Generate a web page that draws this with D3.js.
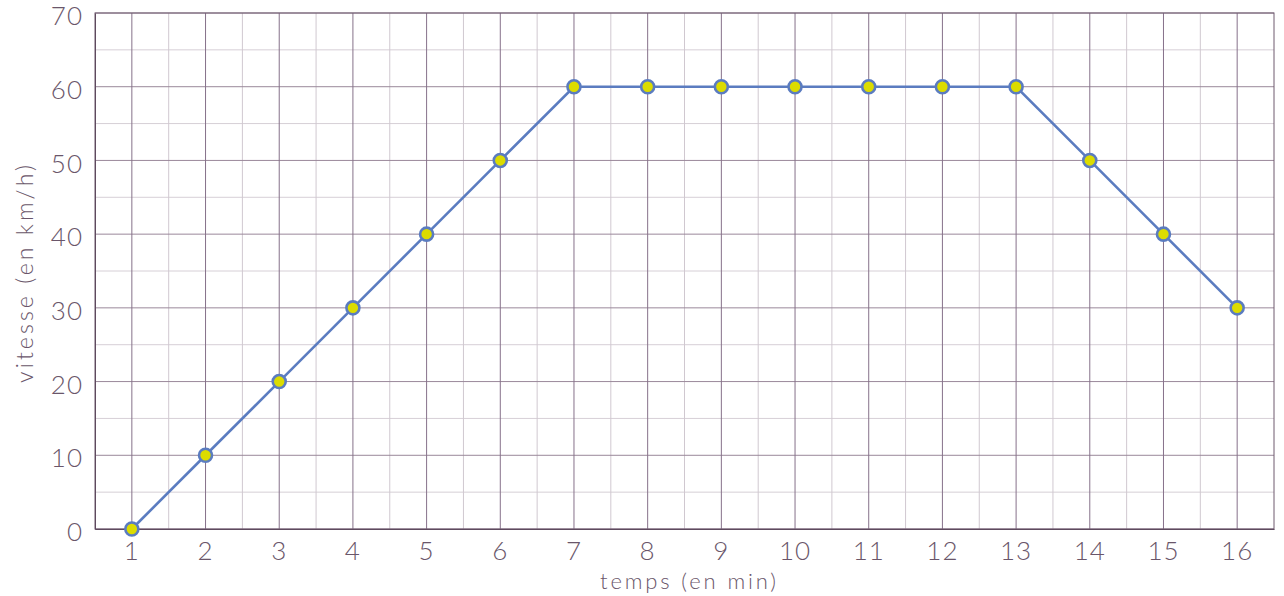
<!DOCTYPE html>
<html>
<head>
<meta charset="utf-8">
<script src="https://cdn.jsdelivr.net/npm/d3@7"></script>
<style>
html,body{margin:0;padding:0;background:#fff;}
svg text{font-family:Lato,"Open Sans",sans-serif;font-weight:300;fill:#6a566a;}
</style>
</head>
<body>
<svg id="chart" width="1284" height="596"></svg>
<script>
const minutes = [1,2,3,4,5,6,7,8,9,10,11,12,13,14,15,16];
const speeds = [0,10,20,30,40,50,60,60,60,60,60,60,60,50,40,30];
const yTicks = [0,10,20,30,40,50,60,70];
const xTitle = "temps (en min)";
const yTitle = "vitesse (en km/h)";

const svg = d3.select("#chart");
const L = 95, R = 1274, T = 13, B = 529;
const x = d3.scaleBand().domain(minutes).range([L, R]).padding(0);
const y = d3.scaleLinear().domain([0, 70]).range([B, T]);
const cx = d => x(d) + x.bandwidth() / 2;

const g = svg.append("g");
const minorY = d3.range(5, 70, 10);
g.selectAll(".hmin").data(minorY).join("line")
  .attr("x1", L).attr("x2", R).attr("y1", d => y(d)).attr("y2", d => y(d))
  .attr("stroke", "#d6cfd6").attr("stroke-width", 1);
g.selectAll(".vmin").data(minutes.slice(1)).join("line")
  .attr("x1", d => x(d)).attr("x2", d => x(d)).attr("y1", T).attr("y2", B)
  .attr("stroke", "#d0c8d0").attr("stroke-width", 1);
g.selectAll(".hmaj").data(yTicks).join("line")
  .attr("x1", L).attr("x2", R).attr("y1", d => y(d)).attr("y2", d => y(d))
  .attr("stroke", "#9a889a").attr("stroke-width", 1);
g.selectAll(".vmaj").data(minutes).join("line")
  .attr("x1", d => cx(d)).attr("x2", d => cx(d)).attr("y1", T).attr("y2", B)
  .attr("stroke", "#86718a").attr("stroke-width", 1);
g.append("rect").attr("x", L).attr("y", T).attr("width", R - L).attr("height", B - T)
  .attr("fill", "none").attr("stroke", "#6e5a6e").attr("stroke-width", 1);

const xAxis = d3.axisBottom(x).tickSize(0).tickPadding(13);
const xa = svg.append("g").attr("transform", `translate(0,${B})`).call(xAxis);
xa.select(".domain").attr("stroke", "#5e4a5e");
xa.selectAll("text").style("font-size", "26px").style("letter-spacing", "1px").attr("dy", "0.71em");

const yAxis = d3.axisLeft(y).tickValues(yTicks).tickSize(0).tickPadding(12);
const ya = svg.append("g").attr("transform", `translate(${L},0)`).call(yAxis);
ya.select(".domain").attr("stroke", "#5e4a5e");
ya.selectAll("text").style("font-size", "26px").style("letter-spacing", "1px").attr("dy", "0.45em");

svg.append("text").attr("x", 688).attr("y", 589)
  .attr("text-anchor", "middle").style("font-size", "22px")
  .attr("textLength", 176).attr("lengthAdjust", "spacing").text(xTitle);
svg.append("text").attr("transform", `translate(33,${274}) rotate(-90)`)
  .attr("text-anchor", "middle").style("font-size", "23px")
  .attr("textLength", 218).attr("lengthAdjust", "spacing").text(yTitle);

const line = d3.line().x((d, i) => cx(minutes[i])).y(d => y(d));
svg.append("path").datum(speeds).attr("d", line)
  .attr("fill", "none").attr("stroke", "#5b7cc0").attr("stroke-width", 2.6);

svg.selectAll(".pt").data(speeds).join("circle")
  .attr("cx", (d, i) => cx(minutes[i])).attr("cy", d => y(d)).attr("r", 6.5)
  .attr("fill", "#dcdc00").attr("stroke", "#5b7cc0").attr("stroke-width", 2.6);
</script>
</body>
</html>
